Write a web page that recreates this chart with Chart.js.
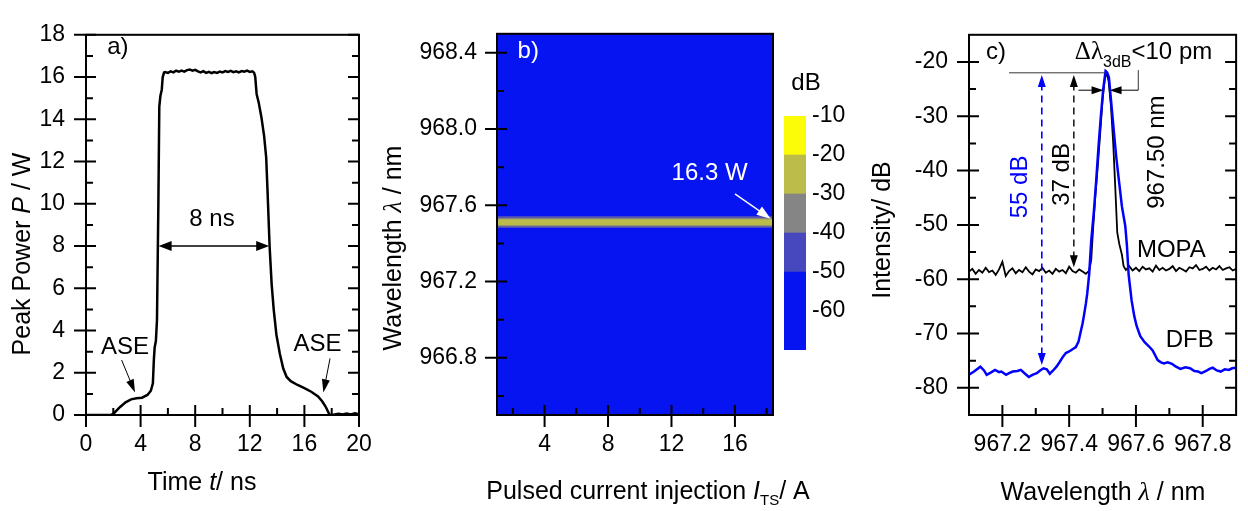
<!DOCTYPE html>
<html>
<head>
<meta charset="utf-8">
<title>MOPA pulse, spectral map and spectrum</title>
<script src="https://cdn.jsdelivr.net/npm/chart.js@4.4.1/dist/chart.umd.min.js"></script>
<style>
  body { margin: 0; background: #fff; }
  #wrap { position: relative; width: 1248px; height: 511px; }
  #wrap canvas { position: absolute; left: 0; top: 0; }
</style>
</head>
<body>
<div id="wrap">
  <canvas id="pulseCanvas" width="1248" height="511"></canvas>
  <canvas id="mapCanvas" width="1248" height="511"></canvas>
  <canvas id="barCanvas" width="1248" height="511"></canvas>
  <canvas id="specCanvas" width="1248" height="511"></canvas>
</div>
<script>
// ---- a) pulse shape: time (ns) / peak power (W)
const aTime = [0, 1.85, 2.1, 2.5, 2.9, 3.3, 3.7, 4.1, 4.5, 4.75, 4.9, 4.97, 5.03, 5.12, 5.2, 5.3, 5.37, 5.45, 5.55, 5.62, 5.72,
  5.8, 6.0, 6.2, 6.4, 6.6, 6.8, 7.0, 7.2, 7.4, 7.6, 7.8, 8.0, 8.2, 8.4, 8.6, 8.8, 9.0, 9.2, 9.4, 9.6, 9.8,
  10.0, 10.2, 10.4, 10.6, 10.8, 11.0, 11.2, 11.4, 11.6, 11.8, 12.0, 12.2,
  12.32, 12.4, 12.5, 12.65, 12.85, 13.05, 13.2, 13.3, 13.45, 13.6, 13.75, 13.95, 14.2, 14.45, 14.7, 15.0,
  15.5, 16.0, 16.5, 17.0, 17.3, 17.55, 17.7, 17.85, 18.2, 18.5, 18.8, 19.1, 19.4, 19.7, 20];
const aPower = [0, 0, 0.12, 0.38, 0.6, 0.74, 0.79, 0.82, 0.95, 1.15, 1.5, 2.6, 3.2, 3.5, 4.5, 9.9, 14.6, 15.1, 15.4, 16.0, 16.22,
  16.24, 16.20, 16.27, 16.22, 16.30, 16.25, 16.31, 16.26, 16.33, 16.36, 16.30, 16.34, 16.27, 16.22, 16.28, 16.20, 16.25, 16.19, 16.24, 16.20, 16.26,
  16.22, 16.28, 16.24, 16.29, 16.23, 16.27, 16.22, 16.28, 16.25, 16.30, 16.24, 16.27,
  16.2, 16.0, 15.2, 14.8, 14.1, 13.2, 12.2, 10.6, 8.0, 6.2, 5.0, 3.8, 2.9, 2.2, 1.8, 1.6,
  1.42, 1.27, 1.1, 0.88, 0.65, 0.4, 0.2, 0.0, 0.02, 0.06, 0.02, 0.07, 0.03, 0.08, 0.04];
const aTicksX = [0, 4, 8, 12, 16, 20];
const aMinorX = [2, 6, 10, 14, 18];
const aTicksY = [0, 2, 4, 6, 8, 10, 12, 14, 16, 18];
const aMinorY = [1, 3, 5, 7, 9, 11, 13, 15, 17];

// ---- b) spectral map: current (A) / wavelength (nm), contour bands in dB
const bCurrent = [1, 18.4];
const bBandLevel = [-60, -50, -40, -30];
const bBandTop = [968.5, 967.544, 967.535, 967.527];
const bBandBottom = [966.5, 967.481, 967.489, 967.496];
const bTicksX = [4, 8, 12, 16];
const bMinorX = [2, 6, 10, 14, 18];
const bTicksY = [966.8, 967.2, 967.6, 968.0, 968.4];
const bMinorY = [966.6, 967.0, 967.4, 967.8, 968.2];

// colour scale
const cbLow = [-70, -50, -40, -30, -20];
const cbHigh = [-50, -40, -30, -20, -10];
const cbColors = ['#0614F2', '#4747BE', '#858585', '#BCBC4A', '#FCFC08'];
const cbTicks = [-60, -50, -40, -30, -20, -10];

// ---- c) optical spectra: wavelength (nm) / intensity (dB)
const dfbX = [967.100, 967.115, 967.134, 967.145, 967.153, 967.165, 967.178, 967.190, 967.197, 967.211, 967.220, 967.231,
  967.245, 967.255, 967.268, 967.279, 967.290, 967.303, 967.313, 967.323, 967.333, 967.342, 967.352, 967.362, 967.372,
  967.381, 967.390, 967.400, 967.410, 967.420, 967.428, 967.434, 967.440, 967.444, 967.450, 967.454, 967.460, 967.466,
  967.474, 967.481, 967.488, 967.495, 967.502, 967.509, 967.514, 967.519, 967.526, 967.534, 967.541, 967.549, 967.558,
  967.568, 967.573, 967.578, 967.587, 967.595, 967.602, 967.613, 967.626, 967.638, 967.650, 967.665, 967.675, 967.684,
  967.695, 967.708, 967.720, 967.733, 967.748, 967.762, 967.775, 967.786, 967.796, 967.810, 967.820, 967.830, 967.842,
  967.854, 967.866, 967.878, 967.888, 967.900];
const dfbY = [-77.6, -77.0, -76.1, -76.8, -77.6, -77.2, -76.7, -77.1, -77.0, -77.6, -77.3, -77.0,
  -76.9, -76.7, -77.4, -78.0, -77.6, -77.3, -76.8, -76.4, -76.6, -77.4, -76.8, -76.1, -75.2,
  -74.3, -73.6, -73.3, -72.9, -72.5, -71.5, -69.8, -68.2, -66.8, -64.5, -62.7, -59.0, -53.0,
  -47.5, -41.8, -35.5, -29.9, -25.0, -21.7, -22.0, -22.8, -27.5, -32.9, -37.5, -41.8, -46.6,
  -50.2, -53.8, -59.1, -63.9, -66.8, -68.6, -70.5, -71.6, -72.3, -73.1, -74.9, -75.3, -75.5,
  -75.3, -75.6, -76.1, -76.5, -76.2, -76.4, -76.9, -77.0, -77.3, -76.9, -76.5, -76.3, -76.8,
  -77.0, -76.6, -76.7, -76.4, -76.3];
const mopaX = [967.10, 967.11, 967.12, 967.13, 967.14, 967.15, 967.16, 967.17, 967.18, 967.19,
  967.20, 967.21, 967.22, 967.23, 967.24, 967.25, 967.26, 967.27, 967.28, 967.29,
  967.30, 967.31, 967.32, 967.33, 967.34, 967.35, 967.36, 967.37, 967.38, 967.39,
  967.40, 967.41, 967.42, 967.43, 967.44, 967.45, 967.46,
  967.466, 967.471, 967.478, 967.486, 967.493, 967.500, 967.507, 967.512, 967.518, 967.525, 967.532, 967.538,
  967.544, 967.550, 967.558, 967.563,
  967.57, 967.58, 967.59, 967.60, 967.61, 967.62, 967.63, 967.64, 967.65, 967.66,
  967.67, 967.68, 967.69, 967.70, 967.71, 967.72, 967.73, 967.74, 967.75, 967.76,
  967.77, 967.78, 967.79, 967.80, 967.81, 967.82, 967.83, 967.84, 967.85, 967.86,
  967.87, 967.88, 967.89, 967.90];
const mopaY = [-58.6, -58.1, -59.0, -58.3, -58.8, -57.9, -58.7, -58.4, -59.2, -58.2,
  -56.8, -59.4, -58.5, -58.0, -58.9, -58.3, -58.7, -57.8, -58.6, -59.1,
  -58.2, -58.5, -57.9, -58.8, -58.4, -59.0, -58.1, -58.6, -58.3, -58.9,
  -57.7, -58.5, -58.8, -58.2, -58.6, -59.0, -58.4,
  -56.5, -51.4, -45.0, -38.9, -33.0, -27.0, -23.0, -22.0, -23.5, -28.0, -35.0, -43.0,
  -51.4, -53.5, -55.5, -57.6,
  -58.3, -57.6, -58.4, -57.9, -58.5, -57.7, -58.2, -58.0, -58.6, -57.5,
  -58.3, -57.9, -58.4, -58.1, -57.6, -58.5, -57.9, -58.2, -58.6, -57.8,
  -58.0, -57.4, -58.3, -58.1, -57.7, -58.4, -57.9, -58.2, -57.6, -58.3,
  -58.0, -57.8, -58.4, -58.1];
const cTicksX = [967.2, 967.4, 967.6, 967.8];
const cMinorX = [967.3, 967.5, 967.7];
const cTicksY = [-80, -70, -60, -50, -40, -30, -20];
const cMinorY = [-75, -65, -55, -45, -35, -25];

// ---- shared look
const SANS = "'Liberation Sans', Arial, Helvetica, sans-serif";
const SERIF = "'Liberation Serif', 'Times New Roman', serif";
const TICK = 23;
const YW = 80, XH = 60;
const W = 1248, H = 511;

function f(size, style) { return (style || '') + ' ' + size + 'px ' + SANS; }
function fs(size, style) { return (style || '') + ' ' + size + 'px ' + SERIF; }

function pts(xs, ys) { return xs.map((x, i) => ({ x: x, y: ys[i] })); }

function axis(min, max, ticks, digits, pad, isX) {
  return {
    type: 'linear', min: min, max: max, bounds: 'data',
    afterBuildTicks: s => { s.ticks = ticks.map(v => ({ value: v })); },
    afterFit: s => { if (isX) s.height = XH; else s.width = YW; },
    grid: { display: false, drawTicks: false },
    border: { display: false },
    ticks: { padding: pad, autoSkip: false, maxRotation: 0, color: '#000',
      font: { family: SANS, size: TICK }, callback: v => Number(v).toFixed(digits) }
  };
}

// text made of parts [text, font, dy]
function say(ctx, parts, x, y, opt) {
  opt = opt || {};
  ctx.save();
  ctx.translate(x, y);
  if (opt.rot) ctx.rotate(opt.rot);
  ctx.fillStyle = opt.color || '#000';
  ctx.textBaseline = 'middle';
  ctx.textAlign = 'left';
  let w = 0;
  parts.forEach(p => { ctx.font = p[1]; w += ctx.measureText(p[0]).width; });
  let cx = opt.left ? 0 : -w / 2;
  parts.forEach(p => { ctx.font = p[1]; ctx.fillText(p[0], cx, p[2] || 0); cx += ctx.measureText(p[0]).width; });
  ctx.restore();
}

function head(ctx, x, y, ang, len, half) {
  const c = Math.cos(ang), s = Math.sin(ang);
  ctx.beginPath();
  ctx.moveTo(x, y);
  ctx.lineTo(x - len * c + half * s, y - len * s - half * c);
  ctx.lineTo(x - len * c - half * s, y - len * s + half * c);
  ctx.closePath();
  ctx.fill();
}

function arrow(ctx, x1, y1, x2, y2, o) {
  o = o || {};
  const len = o.len || 12, half = o.half || 4;
  const ang = Math.atan2(y2 - y1, x2 - x1);
  const c = Math.cos(ang), s = Math.sin(ang);
  ctx.save();
  ctx.strokeStyle = o.color || '#000';
  ctx.fillStyle = o.color || '#000';
  ctx.lineWidth = o.width || 1.2;
  if (o.dash) ctx.setLineDash(o.dash);
  ctx.beginPath();
  ctx.moveTo(o.both ? x1 + c * len * 0.7 : x1, o.both ? y1 + s * len * 0.7 : y1);
  ctx.lineTo(x2 - c * len * 0.7, y2 - s * len * 0.7);
  ctx.stroke();
  ctx.setLineDash([]);
  head(ctx, x2, y2, ang, len, half);
  if (o.both) head(ctx, x1, y1, ang + Math.PI, len, half);
  ctx.restore();
}

function decor(draw) {
  return {
    id: 'decor',
    afterDatasetsDraw(chart) {
      const X = v => chart.scales.x.getPixelForValue(v);
      const Y = v => chart.scales.y.getPixelForValue(v);
      chart.ctx.save();
      draw(chart.ctx, X, Y);
      chart.ctx.restore();
    }
  };
}

// box with crossing major ticks, inward minor ticks
function frame(minorX, minorY, right) {
  return {
    id: 'frame',
    afterDatasetsDraw(chart) {
      const { ctx, chartArea: a, scales: { x, y } } = chart;
      ctx.save();
      ctx.strokeStyle = '#000';
      ctx.lineWidth = 2;
      ctx.strokeRect(a.left, a.top, a.right - a.left, a.bottom - a.top);
      ctx.beginPath();
      x.ticks.forEach(t => { const p = x.getPixelForValue(t.value); ctx.moveTo(p, a.bottom - 10); ctx.lineTo(p, a.bottom + 12); });
      minorX.forEach(v => { const p = x.getPixelForValue(v); ctx.moveTo(p, a.bottom - 7); ctx.lineTo(p, a.bottom); });
      y.ticks.forEach(t => {
        const p = y.getPixelForValue(t.value);
        ctx.moveTo(a.left - 12, p); ctx.lineTo(a.left + 10, p);
        if (right) { ctx.moveTo(a.right - 11, p); ctx.lineTo(a.right, p); }
      });
      minorY.forEach(v => {
        const p = y.getPixelForValue(v);
        ctx.moveTo(a.left, p); ctx.lineTo(a.left + 7, p);
        if (right) { ctx.moveTo(a.right - 7, p); ctx.lineTo(a.right, p); }
      });
      ctx.stroke();
      ctx.restore();
    }
  };
}

const base = { responsive: false, animation: false, events: [], devicePixelRatio: 1 };
const quiet = { legend: { display: false }, tooltip: { enabled: false } };

// ================= a)
new Chart(document.getElementById('pulseCanvas'), {
  type: 'line',
  data: { datasets: [{ data: pts(aTime, aPower), borderColor: '#000', borderWidth: 2.5, pointRadius: 0, tension: 0 }] },
  options: Object.assign({}, base, {
    layout: { padding: { left: 86 - YW, right: W - 359, top: 23, bottom: H - 415 - XH } },
    scales: { x: axis(0, 20, aTicksX, 0, 16, true), y: axis(0, 18, aTicksY, 0, 21, false) },
    plugins: quiet
  }),
  plugins: [decor((ctx, X, Y) => {
    say(ctx, [['a)', f(24)]], X(1.55), Y(17.4), { left: true });
    say(ctx, [['8 ns', f(24)]], X(9.23), Y(9.27));
    arrow(ctx, X(5.32), Y(8), X(13.42), Y(8), { both: true, len: 13, half: 5, width: 1.5 });
    say(ctx, [['ASE', f(24)]], X(2.86), Y(3.2));
    say(ctx, [['ASE', f(24)]], X(16.96), Y(3.35));
    arrow(ctx, X(2.61), Y(2.6), X(3.59), Y(1.07), { len: 13, half: 4, width: 1 });
    arrow(ctx, X(17.88), Y(2.68), X(17.39), Y(1.07), { len: 13, half: 4, width: 1 });
    say(ctx, [['Time ', f(25)], ['t', f(25, 'italic')], ['/ ns', f(25)]], 202, 483);
    say(ctx, [['Peak Power ', f(25)], ['P', f(25, 'italic')], [' / W', f(25)]], 23, 254, { rot: -Math.PI / 2 });
  }), frame(aMinorX, aMinorY, true)]
});

// ================= b)
function bandColor(level) {
  for (let i = 0; i < cbLow.length; i++) if (level >= cbLow[i] && level < cbHigh[i]) return cbColors[i];
  return cbColors[cbColors.length - 1];
}
new Chart(document.getElementById('mapCanvas'), {
  type: 'line',
  data: {
    datasets: bBandLevel.map((lv, i) => ({
      data: bCurrent.map(c => ({ x: c, y: bBandTop[i] })),
      fill: { value: bBandBottom[i] },
      backgroundColor: bandColor(lv),
      borderWidth: 0, pointRadius: 0,
      order: bBandLevel.length - i
    }))
  },
  options: Object.assign({}, base, {
    layout: { padding: { left: 497 - YW, right: W - 773, top: 23, bottom: H - 415 - XH } },
    scales: { x: axis(1, 18.4, bTicksX, 0, 16, true), y: axis(966.5, 968.5, bTicksY, 1, 20, false) },
    plugins: quiet
  }),
  plugins: [decor((ctx, X, Y) => {
    say(ctx, [['b)', f(24)]], X(2.3), Y(968.41), { left: true, color: '#fff' });
    say(ctx, [['16.3 W', f(24)]], X(14.4), Y(967.77), { color: '#fff' });
    arrow(ctx, X(16.0), Y(967.66), X(18.25), Y(967.53), { color: '#fff', len: 14, half: 5, width: 1.3 });
    say(ctx, [['Pulsed current injection ', f(25)], ['I', f(25, 'italic')], ['TS', f(15), 9], ['/ A', f(25)]], 648, 492);
    say(ctx, [['Wavelength ', f(25)], ['\u03bb', fs(26, 'italic')], [' / nm', f(25)]], 394, 248, { rot: -Math.PI / 2 });
  }), frame(bMinorX, bMinorY, false)]
});

// colour bar
new Chart(document.getElementById('barCanvas'), {
  type: 'bar',
  data: {
    labels: [''],
    datasets: cbLow.map((lo, i) => ({
      data: [[lo, cbHigh[i]]], backgroundColor: cbColors[i], borderWidth: 0,
      grouped: false, barPercentage: 1, categoryPercentage: 1
    }))
  },
  options: Object.assign({}, base, {
    layout: { padding: { left: 784, right: W - 806 - 50, top: 116, bottom: H - 350 } },
    scales: {
      x: { display: false },
      y: Object.assign(axis(-70, -10, cbTicks, 0, 6, false), { position: 'right', afterFit: s => { s.width = 50; } })
    },
    plugins: quiet
  }),
  plugins: [{
    id: 'cbTitle',
    afterDraw(chart) { say(chart.ctx, [['dB', f(24)]], 806, 83); }
  }]
});

// ================= c)
new Chart(document.getElementById('specCanvas'), {
  type: 'line',
  data: {
    datasets: [
      { label: 'DFB', data: pts(dfbX, dfbY), borderColor: '#0000FF', borderWidth: 2.5, pointRadius: 0, tension: 0, order: 0 },
      { label: 'MOPA', data: pts(mopaX, mopaY), borderColor: '#000', borderWidth: 1.8, pointRadius: 0, tension: 0, order: 1 }
    ]
  },
  options: Object.assign({}, base, {
    layout: { padding: { left: 969 - YW, right: W - 1244, top: 23, bottom: H - 415 - XH } },
    scales: { x: axis(967.1, 967.9, cTicksX, 1, 16, true), y: axis(-85, -15, cTicksY, 0, 21, false) },
    plugins: quiet
  }),
  plugins: [decor((ctx, X, Y) => {
    say(ctx, [['c)', f(24)]], X(967.151), Y(-18.2), { left: true });
    say(ctx, [['\u0394\u03bb', fs(25)], ['3dB', f(16), 10], ['<10 pm', f(24)]], X(967.417), Y(-18.3), { left: true });
    ctx.strokeStyle = '#333';
    ctx.lineWidth = 1;
    ctx.beginPath();
    ctx.moveTo(X(967.22), Y(-22)); ctx.lineTo(X(967.51), Y(-22));
    ctx.moveTo(X(967.607), Y(-25.2)); ctx.lineTo(X(967.607), Y(-21.5));
    ctx.stroke();
    arrow(ctx, X(967.318), Y(-22.4), X(967.318), Y(-75.8), { color: '#0000FF', both: true, dash: [7, 5], len: 12, half: 4, width: 1.6 });
    arrow(ctx, X(967.414), Y(-22.4), X(967.414), Y(-57.8), { color: '#000', both: true, dash: [7, 5], len: 12, half: 4, width: 1.4 });
    arrow(ctx, X(967.428), Y(-25.2), X(967.503), Y(-25.2), { len: 12, half: 4, width: 1 });
    arrow(ctx, X(967.607), Y(-25.2), X(967.521), Y(-25.2), { len: 12, half: 4, width: 1 });
    say(ctx, [['55 dB', f(24)]], X(967.254), Y(-43), { rot: -Math.PI / 2, color: '#0000FF' });
    say(ctx, [['37 dB', f(24)]], X(967.379), Y(-40.7), { rot: -Math.PI / 2 });
    say(ctx, [['967.50 nm', f(24)]], X(967.664), Y(-36.6), { rot: -Math.PI / 2 });
    say(ctx, [['MOPA', f(24)]], X(967.603), Y(-54.6), { left: true });
    say(ctx, [['DFB', f(24)]], X(967.689), Y(-71.25), { left: true });
    say(ctx, [['Intensity/ dB', f(25)]], 883, 230, { rot: -Math.PI / 2 });
    say(ctx, [['Wavelength ', f(25)], ['\u03bb', fs(26, 'italic')], [' / nm', f(25)]], 1103, 493);
  }), frame(cMinorX, cMinorY, true)]
});
</script>
</body>
</html>
